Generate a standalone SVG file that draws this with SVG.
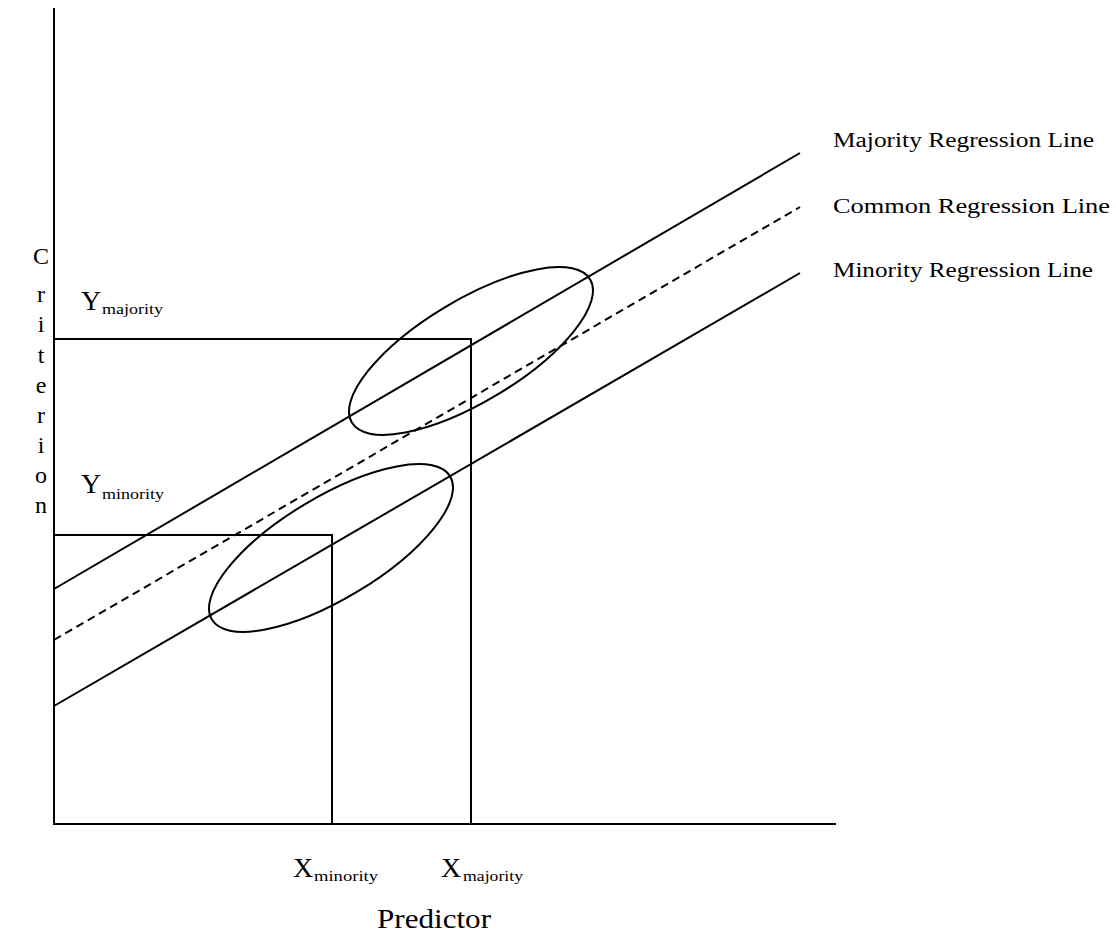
<svg xmlns="http://www.w3.org/2000/svg" width="1116" height="939" viewBox="0 0 1116 939">
<style>
.ln{stroke:#000;stroke-width:2;fill:none}
.dash{stroke-dasharray:8,5}
text{font-family:"Liberation Serif","DejaVu Serif",serif;fill:#000}
.lab{font-size:20px}
.big{font-size:28px}
.sub{font-size:15px}
.crit{font-size:24px;text-anchor:middle}
</style>
<rect width="1116" height="939" fill="#fff"/>
<g id="axes">
<line class="ln" x1="54" y1="8" x2="54" y2="825"/>
<line class="ln" x1="53" y1="824" x2="836" y2="824"/>
</g>
<g id="connectors">
<line class="ln" x1="54" y1="589" x2="800" y2="153"/>
<line class="ln dash" x1="54" y1="640" x2="800" y2="207"/>
<line class="ln" x1="54" y1="706" x2="800" y2="273"/>
<polyline class="ln" points="54,339 471,339 471,824"/>
<polyline class="ln" points="54,535 332,535 332,824"/>
</g>
<g id="ellipse-majority">
<ellipse class="ln" cx="471" cy="351" rx="139" ry="51" transform="rotate(-31 471 351)"/>
</g>
<g id="ellipse-minority">
<ellipse class="ln" cx="331" cy="548" rx="139" ry="51" transform="rotate(-31 331 548)"/>
</g>
<g id="legend">
<text class="lab" x="833" y="147" textLength="261" lengthAdjust="spacingAndGlyphs">Majority Regression Line</text>
<text class="lab" x="833" y="213" textLength="277" lengthAdjust="spacingAndGlyphs">Common Regression Line</text>
<text class="lab" x="833" y="277" textLength="260" lengthAdjust="spacingAndGlyphs">Minority Regression Line</text>
</g>
<g id="y-labels">
<text x="81" y="310"><tspan class="big">Y</tspan><tspan class="sub" x="102" y="314" textLength="61" lengthAdjust="spacingAndGlyphs">majority</tspan></text>
<text x="81" y="493"><tspan class="big">Y</tspan><tspan class="sub" x="102" y="499" textLength="62" lengthAdjust="spacingAndGlyphs">minority</tspan></text>
</g>
<g id="x-labels">
<text x="293" y="877"><tspan class="big">X</tspan><tspan class="sub" x="314" y="881" textLength="64" lengthAdjust="spacingAndGlyphs">minority</tspan></text>
<text x="441" y="877"><tspan class="big">X</tspan><tspan class="sub" x="463" y="881" textLength="60" lengthAdjust="spacingAndGlyphs">majority</tspan></text>
<text class="big" x="377" y="928" textLength="114" lengthAdjust="spacingAndGlyphs">Predictor</text>
</g>
<g id="criterion">
<text class="crit" x="41" y="264">C</text>
<text class="crit" x="41" y="302">r</text>
<text class="crit" x="41" y="332">i</text>
<text class="crit" x="41" y="363">t</text>
<text class="crit" x="41" y="393">e</text>
<text class="crit" x="41" y="423">r</text>
<text class="crit" x="41" y="453">i</text>
<text class="crit" x="41" y="483">o</text>
<text class="crit" x="41" y="513">n</text>
</g>
</svg>
